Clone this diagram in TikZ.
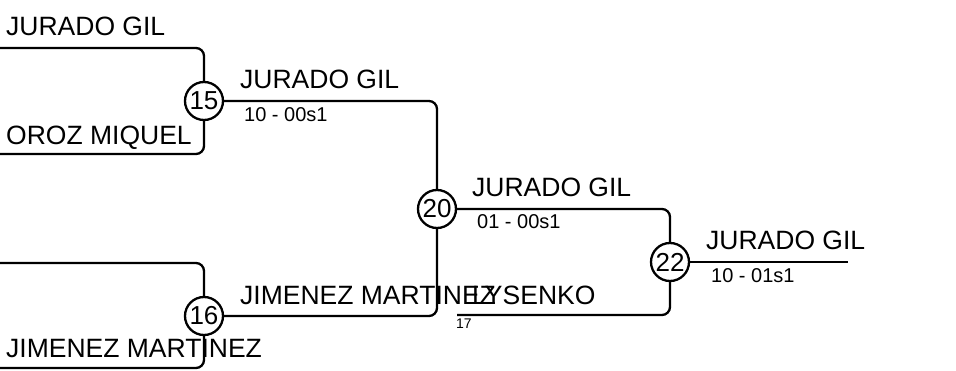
\documentclass[tikz,border=0pt]{standalone}
\usepackage{fontspec}
\setmainfont{Liberation Sans}
\begin{document}
\begin{tikzpicture}[x=1pt,y=-1pt,
  wire/.style={line width=2.3pt, rounded corners=8pt},
  seedc/.style={circle, draw, line width=2.3pt, minimum size=38pt, inner sep=0pt, fill=white, font=\fontsize{26}{30}\selectfont},
  plname/.style={anchor=base west, inner sep=0pt, font=\fontsize{26.5}{31}\selectfont},
  plscore/.style={anchor=base west, inner sep=0pt, font=\fontsize{20}{24}\selectfont},
  plsmall/.style={anchor=base west, inner sep=0pt, font=\fontsize{14}{17}\selectfont}]
\useasboundingbox (0,0) rectangle (956,371);
% free ends
\coordinate (a1) at (0,48);
\coordinate (a2) at (0,154);
\coordinate (b1) at (0,263);
\coordinate (b2) at (0,368);
\coordinate (l17) at (457,315);
\coordinate (fin) at (848,262);
% circles
\node[seedc] (c15) at (204,101) {15};
\node[seedc] (c16) at (204,316) {16};
\node[seedc] (c20) at (437,209) {20};
\node[seedc] (c22) at (670,262) {22};
% connectors
\draw[wire] (a1) -| (c15.north);
\draw[wire] (a2) -| (c15.south);
\draw[wire] (b1) -| (c16.north);
\draw[wire] (b2) -| (c16.south);
\draw[wire] (c15.east) -| (c20.north);
\draw[wire] (c16.east) -| (c20.south);
\draw[wire] (c20.east) -| (c22.north);
\draw[wire] (l17) -| (c22.south);
\draw[wire] (c22.east) -- (fin);
% labels
\node[plname] (n1) at (6,36) {JURADO GIL};
\node[plname] (n2) at (6,145) {OROZ MIQUEL};
\node[plname] (n3) at (6,358) {JIMENEZ MARTINEZ};
\node[plname] (n4) at (240,89) {JURADO GIL};
\node[plscore] (s4) at (244,122) {10 - 00s1};
\node[plname] (n5) at (240,305) {JIMENEZ MARTINEZ};
\node[plname] (n6) at (472,197) {JURADO GIL};
\node[plscore] (s6) at (477,229) {01 - 00s1};
\node[plname] (n7) at (472,305) {LYSENKO};
\node[plsmall] (t17) at (456,329) {17};
\node[plname] (n8) at (706,250) {JURADO GIL};
\node[plscore] (s8) at (711,283) {10 - 01s1};
\end{tikzpicture}
\end{document}
